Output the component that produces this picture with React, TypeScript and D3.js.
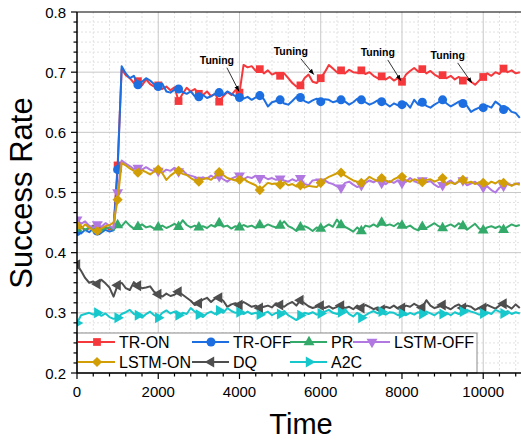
import * as d3 from 'd3';

// sample times (every 100 steps)
const TIME = d3.range(0, 11000, 100);

const TR_ON = [
  0.44, 0.442, 0.438, 0.44, 0.445, 0.437, 0.44, 0.443, 0.438, 0.442,
  0.545, 0.705, 0.695, 0.69, 0.682, 0.685, 0.678, 0.688, 0.68, 0.676,
  0.678, 0.672, 0.676, 0.67, 0.675, 0.652, 0.664, 0.674, 0.668, 0.672,
  0.664, 0.662, 0.668, 0.66, 0.664, 0.651, 0.66, 0.667, 0.662, 0.67,
  0.666, 0.712, 0.708, 0.71, 0.702, 0.705, 0.698, 0.703, 0.696, 0.699,
  0.694, 0.698, 0.69, 0.682, 0.676, 0.678, 0.69, 0.696, 0.684, 0.682,
  0.69, 0.7, 0.712, 0.706, 0.7, 0.703, 0.698, 0.704, 0.7, 0.699,
  0.703, 0.697, 0.7, 0.694, 0.69, 0.693, 0.688, 0.692, 0.686, 0.69,
  0.684, 0.696, 0.702, 0.707, 0.701, 0.705, 0.698, 0.702, 0.696, 0.692,
  0.695, 0.69, 0.694, 0.688, 0.692, 0.686, 0.69, 0.684, 0.679, 0.686,
  0.692, 0.698, 0.694, 0.7, 0.697, 0.706, 0.7, 0.703, 0.698, 0.7,
];

const TR_OFF = [
  0.435, 0.432, 0.438, 0.434, 0.44, 0.436, 0.433, 0.438, 0.435, 0.437,
  0.538, 0.71, 0.698, 0.69, 0.694, 0.679, 0.684, 0.69, 0.686, 0.68,
  0.676, 0.681, 0.668, 0.666, 0.671, 0.672, 0.667, 0.664, 0.668, 0.66,
  0.659, 0.662, 0.657, 0.66, 0.664, 0.666, 0.662, 0.668, 0.664, 0.66,
  0.658, 0.656, 0.659, 0.654, 0.658, 0.661, 0.655, 0.643, 0.65, 0.652,
  0.654, 0.648, 0.646, 0.652, 0.659, 0.658, 0.652, 0.649, 0.653, 0.656,
  0.651, 0.655, 0.654, 0.65, 0.652, 0.654, 0.651, 0.646, 0.65, 0.656,
  0.654, 0.65, 0.646, 0.649, 0.653, 0.651, 0.648, 0.643, 0.648, 0.645,
  0.646, 0.649, 0.641, 0.654, 0.646, 0.65, 0.644, 0.641, 0.646, 0.65,
  0.654, 0.648, 0.643, 0.647, 0.651, 0.648, 0.644, 0.634, 0.638, 0.641,
  0.641, 0.644, 0.641, 0.651, 0.646, 0.638, 0.641, 0.634, 0.632, 0.624,
];

const PR = [
  0.44, 0.443, 0.438, 0.442, 0.444, 0.439, 0.437, 0.44, 0.442, 0.438,
  0.446, 0.444, 0.452, 0.445, 0.44, 0.443, 0.447, 0.442, 0.444, 0.44,
  0.442, 0.445, 0.441, 0.444, 0.448, 0.443, 0.454, 0.446, 0.442, 0.445,
  0.442, 0.444, 0.441, 0.446, 0.443, 0.449, 0.443, 0.445, 0.44, 0.444,
  0.442, 0.446, 0.443, 0.445, 0.441, 0.446, 0.443, 0.447, 0.444, 0.442,
  0.445, 0.452, 0.444, 0.441, 0.436, 0.442, 0.444, 0.441, 0.436, 0.442,
  0.44, 0.443, 0.447, 0.443, 0.455, 0.446, 0.443, 0.439, 0.435, 0.442,
  0.436, 0.445, 0.443, 0.447, 0.443, 0.45, 0.445, 0.447, 0.444, 0.449,
  0.445, 0.442, 0.445, 0.44, 0.437, 0.443, 0.441, 0.445, 0.449, 0.444,
  0.441, 0.444, 0.447, 0.443, 0.449, 0.444, 0.438, 0.443, 0.448, 0.44,
  0.437, 0.442, 0.444, 0.441, 0.444, 0.438, 0.443, 0.447, 0.444, 0.446,
];

const LSTM_OFF = [
  0.455, 0.448, 0.452, 0.445, 0.441, 0.447, 0.443, 0.449, 0.445, 0.44,
  0.5, 0.553, 0.548, 0.544, 0.539, 0.541, 0.538, 0.542, 0.538, 0.535,
  0.536, 0.533, 0.538, 0.536, 0.541, 0.535, 0.537, 0.53, 0.528, 0.526,
  0.521, 0.525, 0.523, 0.528, 0.524, 0.527, 0.522, 0.518, 0.523, 0.526,
  0.528, 0.522, 0.526, 0.524, 0.528, 0.524, 0.526, 0.522, 0.524, 0.521,
  0.523, 0.52, 0.518, 0.522, 0.519, 0.524, 0.514, 0.512, 0.52, 0.521,
  0.518, 0.52, 0.516, 0.514, 0.51, 0.508, 0.516, 0.518, 0.513, 0.509,
  0.512, 0.516, 0.52, 0.517, 0.521, 0.516, 0.514, 0.519, 0.516, 0.52,
  0.516, 0.518, 0.524, 0.519, 0.516, 0.52, 0.517, 0.519, 0.513, 0.509,
  0.512, 0.516, 0.52, 0.514, 0.518, 0.52, 0.512, 0.515, 0.518, 0.512,
  0.509, 0.51, 0.504, 0.5, 0.508, 0.511, 0.515, 0.512, 0.514, 0.516,
];

const LSTM_ON = [
  0.445, 0.44, 0.447, 0.442, 0.437, 0.436, 0.44, 0.444, 0.446, 0.45,
  0.488, 0.549, 0.545, 0.54, 0.536, 0.533, 0.537, 0.534, 0.53, 0.535,
  0.538, 0.532, 0.521, 0.528, 0.533, 0.536, 0.531, 0.529, 0.524, 0.52,
  0.518, 0.522, 0.524, 0.521, 0.527, 0.534, 0.529, 0.524, 0.522, 0.52,
  0.521, 0.523, 0.518, 0.515, 0.512, 0.504, 0.51, 0.516, 0.514, 0.515,
  0.513, 0.517, 0.512, 0.514, 0.51, 0.512, 0.508, 0.511, 0.51, 0.509,
  0.516, 0.522, 0.526, 0.529, 0.532, 0.533, 0.528, 0.524, 0.52, 0.518,
  0.516, 0.52, 0.526, 0.522, 0.519, 0.524, 0.52, 0.517, 0.522, 0.525,
  0.526, 0.52, 0.518, 0.522, 0.52, 0.517, 0.521, 0.522, 0.518, 0.521,
  0.524, 0.513, 0.517, 0.514, 0.519, 0.521, 0.516, 0.518, 0.514, 0.517,
  0.516, 0.513, 0.518, 0.515, 0.52, 0.516, 0.514, 0.511, 0.515, 0.513,
];

const DQ = [
  0.38, 0.37, 0.358, 0.35, 0.352, 0.348, 0.355, 0.349, 0.342, 0.327,
  0.346, 0.35, 0.341, 0.338, 0.351, 0.345, 0.341, 0.342, 0.344, 0.335,
  0.331, 0.327, 0.332, 0.328, 0.33, 0.335, 0.33, 0.325, 0.32, 0.313,
  0.316, 0.322, 0.325, 0.318, 0.324, 0.325, 0.32, 0.31, 0.314, 0.316,
  0.313, 0.318, 0.314, 0.31, 0.312, 0.308, 0.31, 0.312, 0.309, 0.316,
  0.313, 0.31, 0.315, 0.318, 0.312, 0.321, 0.316, 0.311, 0.308, 0.31,
  0.312, 0.308, 0.311, 0.307, 0.31, 0.312, 0.308, 0.31, 0.306, 0.312,
  0.308, 0.313, 0.31, 0.306, 0.309, 0.305, 0.31, 0.308, 0.312, 0.307,
  0.308, 0.312, 0.31, 0.315, 0.311, 0.309, 0.321, 0.312, 0.308, 0.31,
  0.313, 0.309, 0.306, 0.311, 0.314, 0.308, 0.312, 0.31, 0.305, 0.308,
  0.308, 0.313, 0.31, 0.307, 0.312, 0.315, 0.311, 0.307, 0.314, 0.308,
];

const A2C = [
  0.283, 0.296, 0.298, 0.3, 0.297, 0.3, 0.295, 0.299, 0.293, 0.29,
  0.292, 0.298, 0.301, 0.305, 0.298, 0.296, 0.292, 0.298, 0.302, 0.296,
  0.292, 0.3, 0.304, 0.299, 0.302, 0.296, 0.3, 0.298, 0.308, 0.302,
  0.297, 0.293, 0.299, 0.302, 0.298, 0.304, 0.3, 0.308, 0.303, 0.3,
  0.301, 0.298, 0.302, 0.298, 0.3, 0.297, 0.299, 0.302, 0.296, 0.3,
  0.298, 0.303, 0.296, 0.292, 0.288, 0.296, 0.3, 0.298, 0.301, 0.297,
  0.299, 0.302, 0.305, 0.3, 0.298, 0.301, 0.306, 0.298, 0.294, 0.3,
  0.292, 0.296, 0.3, 0.303, 0.299, 0.302, 0.297, 0.301, 0.3, 0.296,
  0.299, 0.296, 0.3, 0.297, 0.301, 0.298, 0.302, 0.299, 0.296, 0.301,
  0.298, 0.3, 0.296, 0.301, 0.298, 0.302, 0.305, 0.302, 0.3, 0.297,
  0.299, 0.301, 0.298, 0.305, 0.302, 0.299, 0.303, 0.298, 0.301, 0.299,
];

const X_TICKS = [0, 2000, 4000, 6000, 8000, 10000];
const Y_TICKS = [0.2, 0.3, 0.4, 0.5, 0.6, 0.7, 0.8];

// "Tuning" annotations: arrow tip (time, value) and label position (time, value)
const TUNE_TIP_T = [3990, 5830, 7970, 9720];
const TUNE_TIP_V = [0.668, 0.696, 0.686, 0.682];
const TUNE_LBL_T = [3444, 5264, 7404, 9126];
const TUNE_LBL_V = [0.714, 0.729, 0.727, 0.722];

const W = 521, H = 443;
const M = { left: 77, top: 12, right: 521, bottom: 373 };

const tri = d3.symbolTriangle;
const sq = d3.symbolSquare;

const SERIES = [
  { name: 'TR-ON', values: TR_ON, color: '#f5383c', sym: sq, rot: 0, size: 60 },
  { name: 'TR-OFF', values: TR_OFF, color: '#1d6ee0', sym: d3.symbolCircle, rot: 0, size: 64 },
  { name: 'PR', values: PR, color: '#33aa6a', sym: tri, rot: 0, size: 52 },
  { name: 'LSTM-OFF', values: LSTM_OFF, color: '#b278e2', sym: tri, rot: 180, size: 52 },
  { name: 'LSTM-ON', values: LSTM_ON, color: '#d29e06', sym: sq, rot: 45, size: 52 },
  { name: 'DQ', values: DQ, color: '#4e4e4e', sym: tri, rot: -90, size: 52 },
  { name: 'A2C', values: A2C, color: '#16c8cc', sym: tri, rot: 90, size: 52 },
];

// legend grid: [col, row] per series
const LEG_COL = [0, 1, 2, 3, 0, 1, 2];
const LEG_ROW = [0, 0, 0, 0, 1, 1, 1];
const LEG_COL_X = [78, 192, 290, 353];
const LEG_ROW_Y = [342, 362];

export default function App() {
  const x = d3.scaleLinear().domain([0, 10930]).range([M.left, M.right]);
  const y = d3.scaleLinear().domain([0.2, 0.8]).range([M.bottom, M.top]);

  const xMinor = d3.range(0, 10930, 400);
  const yMinor = d3.range(0, 37).map((i) => 0.2 + i * (0.1 / 6));

  const line = d3.line<number>().x((_, i) => x(TIME[i])).y((d) => y(d));
  const font = 'Arial, "Liberation Sans", Helvetica, sans-serif';

  const marker = (s, cx, cy, key) => (
    <path
      key={key}
      d={d3.symbol().type(s.sym).size(s.size)() as string}
      transform={`translate(${cx},${cy}) rotate(${s.rot})`}
      fill={s.color}
    />
  );

  return (
    <svg width={W} height={H} style={{ position: 'absolute', left: 0, top: 0, background: '#fff' }} fontFamily={font}>
      <defs>
        <clipPath id="plot">
          <rect x={M.left} y={M.top} width={M.right - M.left} height={M.bottom - M.top} />
        </clipPath>
        <marker id="arr" viewBox="0 0 10 10" refX="10" refY="5" markerWidth="7" markerHeight="7" orient="auto">
          <path d="M0,1 L10,5 L0,9 Z" fill="#000" />
        </marker>
      </defs>

      {/* minor grid */}
      {xMinor.filter((t) => t % 2000 !== 0).map((t) => (
        <line key={'xm' + t} x1={x(t)} x2={x(t)} y1={M.top} y2={M.bottom} stroke="#e2e2e2" strokeDasharray="2,2" />
      ))}
      {yMinor.map((v, i) => (i % 6 !== 0 ? (
        <line key={'ym' + i} x1={M.left} x2={M.right} y1={y(v)} y2={y(v)} stroke="#e2e2e2" strokeDasharray="2,2" />
      ) : null))}
      {/* major grid */}
      {X_TICKS.filter((t) => t > 0).map((t) => (
        <line key={'xg' + t} x1={x(t)} x2={x(t)} y1={M.top} y2={M.bottom} stroke="#c8c8c8" />
      ))}
      {Y_TICKS.slice(1, -1).map((v) => (
        <line key={'yg' + v} x1={M.left} x2={M.right} y1={y(v)} y2={y(v)} stroke="#c8c8c8" />
      ))}

      {/* series */}
      <g clipPath="url(#plot)">
        {SERIES.map((s) => (
          <g key={s.name}>
            <path d={line(s.values) as string} fill="none" stroke={s.color} strokeWidth={2} strokeLinejoin="round" />
            {s.values.map((v, i) => (i % 5 === 0 ? marker(s, x(TIME[i]), y(v), i) : null))}
          </g>
        ))}
      </g>

      {/* annotations */}
      {TUNE_TIP_T.map((t, i) => {
        const tx = x(t), ty = y(TUNE_TIP_V[i]);
        const lx = x(TUNE_LBL_T[i]), ly = y(TUNE_LBL_V[i]);
        return (
          <g key={'tn' + i}>
            <text x={lx} y={ly} textAnchor="middle" fontSize={10.5} fontWeight="bold">Tuning</text>
            <line x1={lx + 10} y1={ly + 4} x2={tx} y2={ty} stroke="#000" strokeWidth={0.8} markerEnd="url(#arr)" />
          </g>
        );
      })}

      {/* legend */}
      <rect x={M.left} y={333} width={400} height={M.bottom - 333} fill="#fff" stroke="#8a8a8a" strokeWidth={1} />
      {SERIES.map((s, i) => {
        const lx = LEG_COL_X[LEG_COL[i]];
        const ly = LEG_ROW_Y[LEG_ROW[i]];
        return (
          <g key={'lg' + s.name}>
            <line x1={lx} x2={lx + 37} y1={ly} y2={ly} stroke={s.color} strokeWidth={2} />
            {marker(s, lx + 19, ly, 'm')}
            <text x={lx + 41} y={ly + 5.5} fontSize={16} fill="#000">{s.name}</text>
          </g>
        );
      })}

      {/* frame / axes */}
      <line x1={M.left} x2={M.right} y1={M.top} y2={M.top} stroke="#000" strokeWidth={1.2} />
      <line x1={M.left} x2={M.left} y1={M.top} y2={M.bottom} stroke="#000" strokeWidth={1.5} />
      <line x1={M.left} x2={M.right} y1={M.bottom} y2={M.bottom} stroke="#000" strokeWidth={1.5} />

      {yMinor.map((v, i) => (
        <line key={'yt' + i} x1={M.left - (i % 6 === 0 ? 6 : 3.5)} x2={M.left} y1={y(v)} y2={y(v)} stroke="#000" strokeWidth={1.2} />
      ))}
      {xMinor.map((t) => (
        <line key={'xt' + t} x1={x(t)} x2={x(t)} y1={M.bottom} y2={M.bottom + (t % 2000 === 0 ? 6 : 3.5)} stroke="#000" strokeWidth={1.2} />
      ))}

      {Y_TICKS.map((v) => (
        <text key={'yl' + v} x={M.left - 11} y={y(v) + 5.5} textAnchor="end" fontSize={15}>{v.toFixed(1)}</text>
      ))}
      {X_TICKS.map((t) => (
        <text key={'xl' + t} x={x(t)} y={397} textAnchor="middle" fontSize={15}>{t}</text>
      ))}

      <text x={301} y={434} textAnchor="middle" fontSize={29}>Time</text>
      <text transform="translate(32,193) rotate(-90)" textAnchor="middle" fontSize={31}>Success Rate</text>
    </svg>
  );
}
